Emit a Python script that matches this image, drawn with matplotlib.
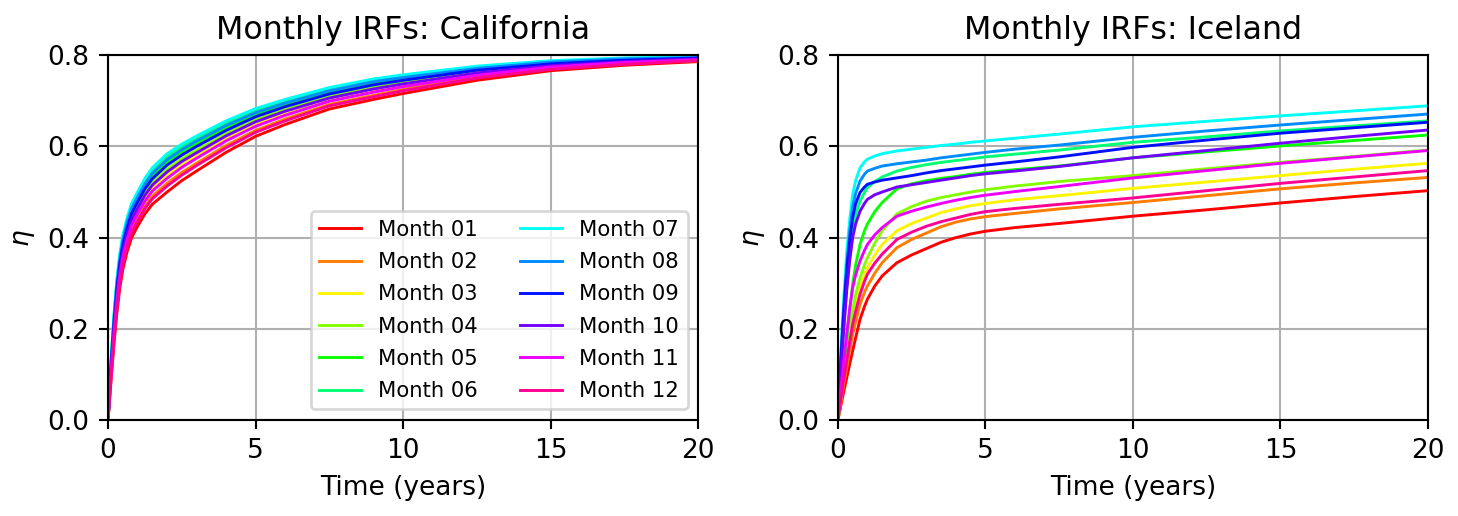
import numpy as np
import matplotlib
matplotlib.use("Agg")
import matplotlib.pyplot as plt

months = ["01", "02", "03", "04", "05", "06", "07", "08", "09", "10", "11", "12"]

# California IRFs, time points (years) where the curves were read
t_cal = [0, 0.1, 0.2, 0.3, 0.4, 0.5, 0.65, 0.8, 1, 1.25, 1.5, 2, 2.5, 3, 4, 5, 6, 7.5, 9, 10, 12.5, 15, 17.5, 20]
cal_01 = [0, .085, .165, .235, .290, .330, .370, .400, .425, .452, .473, .500, .525, .546, .587, .622, .648, .682, .703, .716, .745, .766, .778, .786]
cal_02 = [0, .095, .179, .252, .307, .347, .387, .417, .442, .469, .491, .519, .543, .563, .602, .635, .660, .692, .712, .725, .752, .771, .782, .788]
cal_03 = [0, .105, .194, .269, .324, .364, .404, .434, .459, .487, .509, .538, .561, .581, .618, .650, .673, .703, .723, .735, .759, .776, .785, .791]
cal_04 = [0, .112, .204, .280, .335, .375, .415, .445, .470, .499, .521, .550, .573, .592, .628, .659, .681, .710, .731, .741, .764, .779, .788, .793]
cal_05 = [0, .120, .216, .294, .349, .389, .429, .459, .484, .513, .535, .566, .587, .606, .641, .670, .691, .719, .739, .748, .769, .783, .791, .795]
cal_06 = [0, .126, .225, .304, .359, .399, .439, .469, .494, .524, .547, .577, .599, .617, .651, .678, .699, .725, .745, .754, .774, .786, .793, .796]
cal_07 = [0, .130, .230, .310, .365, .405, .445, .475, .500, .530, .553, .584, .605, .623, .656, .683, .703, .729, .748, .757, .776, .788, .794, .797]
cal_08 = [0, .123, .220, .299, .354, .394, .434, .464, .489, .518, .541, .571, .593, .612, .646, .674, .695, .722, .742, .751, .771, .785, .792, .795]
cal_09 = [0, .117, .211, .288, .343, .383, .423, .453, .478, .507, .529, .559, .581, .600, .635, .665, .687, .715, .735, .745, .767, .781, .789, .794]
cal_10 = [0, .108, .199, .274, .329, .369, .409, .439, .464, .493, .515, .544, .567, .586, .623, .654, .677, .706, .726, .737, .761, .777, .786, .792]
cal_11 = [0, .101, .188, .262, .317, .357, .397, .427, .452, .480, .502, .530, .554, .574, .612, .644, .668, .699, .719, .731, .756, .774, .784, .790]
cal_12 = [0, .092, .175, .246, .301, .341, .381, .411, .436, .464, .485, .513, .537, .558, .597, .631, .656, .689, .709, .722, .750, .769, .780, .788]

# Iceland IRFs
t_ice = [0, 0.1, 0.2, 0.3, 0.4, 0.5, 0.6, 0.75, 0.9, 1, 1.25, 1.5, 2, 2.5, 3, 3.5, 4, 4.5, 5, 6, 7.5, 10, 12.5, 15, 17.5, 20]
ice_01 = [0, .032, .063, .093, .123, .152, .180, .221, .249, .265, .294, .316, .345, .362, .376, .390, .400, .408, .414, .422, .431, .447, .461, .476, .490, .503]
ice_02 = [0, .040, .080, .115, .152, .188, .215, .254, .280, .294, .322, .345, .378, .396, .410, .424, .434, .441, .446, .453, .463, .477, .492, .507, .520, .532]
ice_03 = [0, .045, .095, .140, .185, .225, .255, .290, .318, .334, .362, .385, .415, .431, .443, .455, .463, .470, .475, .483, .492, .508, .522, .536, .550, .563]
ice_04 = [0, .050, .100, .150, .198, .240, .275, .312, .340, .356, .388, .415, .452, .468, .480, .488, .494, .500, .505, .513, .523, .536, .551, .565, .578, .592]
ice_05 = [0, .060, .120, .180, .240, .298, .340, .385, .415, .430, .457, .477, .507, .518, .525, .530, .534, .539, .543, .549, .557, .575, .588, .601, .613, .625]
ice_06 = [0, .110, .210, .295, .360, .415, .450, .480, .499, .510, .523, .533, .546, .554, .560, .565, .569, .573, .577, .583, .592, .609, .621, .634, .645, .656]
ice_07 = [0, .150, .270, .370, .440, .495, .525, .553, .566, .572, .579, .584, .590, .594, .598, .602, .605, .609, .612, .618, .627, .643, .655, .667, .678, .689]
ice_08 = [0, .140, .250, .340, .415, .466, .497, .524, .539, .546, .552, .557, .562, .566, .570, .575, .579, .583, .587, .594, .603, .620, .634, .647, .659, .671]
ice_09 = [0, .130, .240, .330, .395, .444, .474, .499, .511, .517, .522, .526, .531, .536, .542, .547, .551, .555, .559, .566, .577, .598, .614, .629, .641, .653]
ice_10 = [0, .110, .200, .285, .350, .400, .430, .458, .475, .484, .494, .500, .511, .516, .521, .526, .531, .536, .540, .546, .556, .575, .591, .607, .622, .636]
ice_11 = [0, .070, .130, .190, .245, .290, .318, .349, .372, .385, .406, .422, .447, .458, .467, .475, .482, .488, .493, .501, .512, .531, .547, .563, .577, .591]
ice_12 = [0, .045, .090, .130, .172, .210, .238, .276, .304, .320, .344, .364, .396, .412, .425, .435, .443, .451, .457, .464, .473, .487, .503, .519, .533, .547]

cal = [cal_01, cal_02, cal_03, cal_04, cal_05, cal_06, cal_07, cal_08, cal_09, cal_10, cal_11, cal_12]
ice = [ice_01, ice_02, ice_03, ice_04, ice_05, ice_06, ice_07, ice_08, ice_09, ice_10, ice_11, ice_12]

colors = plt.cm.hsv(np.arange(12) / 12)

dpi = 190
fig, axes = plt.subplots(1, 2, figsize=(1458 / dpi, 516 / dpi), dpi=dpi)
fig.subplots_adjust(left=0.0741, right=0.9794, bottom=0.186, top=0.893, wspace=0.237)

panels = [(axes[0], t_cal, cal, "California"), (axes[1], t_ice, ice, "Iceland")]
for ax, t, data, name in panels:
    for i, m in enumerate(months):
        ax.plot(t, data[i], color=colors[i], lw=1.1, label="Month " + m)
    ax.set_xlim(0, 20)
    ax.set_ylim(0, 0.8)
    ax.set_xticks([0, 5, 10, 15, 20])
    ax.set_yticks([0, 0.2, 0.4, 0.6, 0.8])
    ax.grid(True)
    ax.set_xlabel("Time (years)")
    ax.set_ylabel(r"$\eta$")
    ax.set_title("Monthly IRFs: " + name)

axes[0].legend(loc="lower right", ncol=2, fontsize=8, labelspacing=0.58)

fig.savefig("out.png", dpi=dpi)
